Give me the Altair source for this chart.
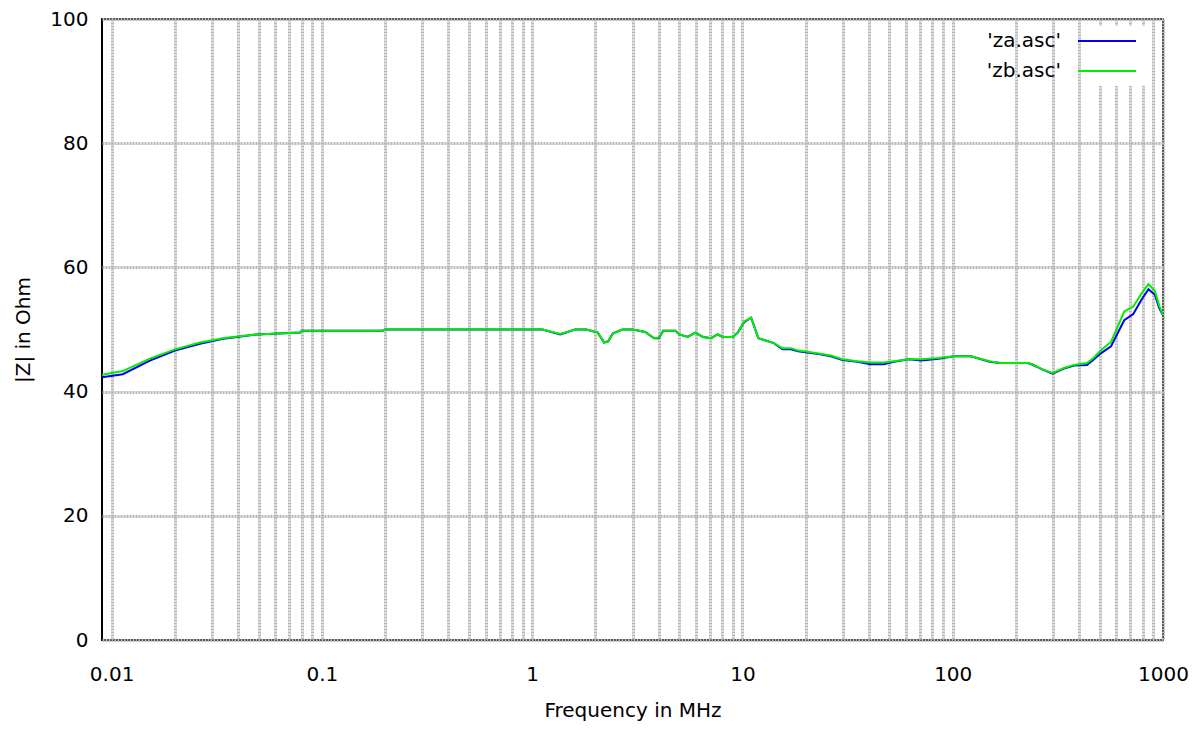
import altair as alt
import pandas as pd

# Frequency points (MHz)
freq_mhz = [0.009, 0.0113, 0.0152, 0.02, 0.0263, 0.0339, 0.0378, 0.049, 0.079, 0.08,
            0.195, 0.2, 1.12, 1.36, 1.6, 1.81, 2.05, 2.2, 2.3, 2.42,
            2.69, 3.0, 3.45, 3.8, 4.0, 4.2, 4.8, 5.0, 5.5, 5.95,
            6.5, 7.1, 7.6, 8.1, 9.0, 9.5, 10.2, 11.0, 11.9, 14.1,
            15.5, 17.0, 18.4, 20.4, 23.4, 26.3, 29.9, 35.2, 40.6, 47.0,
            52.5, 61.5, 71.0, 85.6, 101.6, 122.0, 150.0, 168.0, 228.0, 240.0,
            270.0, 298.0, 338.0, 377.0, 435.0, 470.0, 508.0, 566.0, 654.0, 722.0,
            790.0, 853.0, 915.0, 960.0, 1000.0]

za_ohm = [42.3, 42.8, 45.0, 46.6, 47.7, 48.5, 48.7, 49.2, 49.5, 49.8,
          49.8, 50.0, 50.0, 49.2, 50.0, 50.0, 49.5, 47.9, 48.1, 49.4,
          50.0, 50.0, 49.6, 48.6, 48.6, 49.8, 49.8, 49.2, 48.8, 49.5,
          48.8, 48.6, 49.2, 48.8, 48.8, 49.5, 51.2, 51.9, 48.6, 47.8,
          46.8, 46.8, 46.5, 46.3, 46.0, 45.7, 45.1, 44.8, 44.4, 44.4,
          44.8, 45.2, 45.0, 45.3, 45.7, 45.7, 44.8, 44.6, 44.6, 44.3,
          43.5, 42.9, 43.7, 44.2, 44.3, 45.2, 46.2, 47.3, 51.5, 52.5,
          54.8, 56.5, 55.6, 53.4, 52.3]

zb_ohm = [42.7, 43.3, 45.3, 46.8, 47.9, 48.6, 48.8, 49.2, 49.5, 49.8,
          49.8, 50.0, 50.0, 49.3, 50.0, 50.0, 49.5, 47.9, 48.1, 49.4,
          50.0, 50.0, 49.6, 48.6, 48.7, 49.8, 49.8, 49.2, 48.8, 49.5,
          48.8, 48.6, 49.2, 48.8, 48.8, 49.5, 51.3, 51.9, 48.6, 47.8,
          47.0, 47.0, 46.6, 46.4, 46.1, 45.8, 45.2, 44.9, 44.7, 44.7,
          44.9, 45.2, 45.2, 45.4, 45.7, 45.7, 44.9, 44.6, 44.6, 44.4,
          43.5, 43.0, 43.8, 44.3, 44.6, 45.5, 46.7, 48.0, 52.9, 53.7,
          55.8, 57.3, 56.2, 53.8, 52.3]

series_names = ["'za.asc'", "'zb.asc'"]
series_colors = ["#0000ee", "#00ee00"]

y_tick_values = [0, 20, 40, 60, 80, 100]
x_decades = [0.01, 0.1, 1, 10, 100]
x_grid_values = [m * d for d in x_decades for m in range(1, 10)] + [1000]

rows = []
for name, vals in zip(series_names, [za_ohm, zb_ohm]):
    for f, v in zip(freq_mhz, vals):
        rows.append({"freq": f, "Z": v, "series": name})
df = pd.DataFrame(rows)

FONT = "DejaVu Sans"

label_expr = ("abs(log(datum.value)/LN10 - round(log(datum.value)/LN10)) < 0.001 "
              "? format(datum.value, '~g') : ''")

chart = alt.Chart(df).mark_line(strokeWidth=2, clip=True).encode(
    x=alt.X("freq:Q",
            scale=alt.Scale(type="log", domain=[0.009, 1000], nice=False),
            axis=alt.Axis(values=x_grid_values, labelExpr=label_expr,
                          title="Frequency in MHz", labelOverlap=False,
                          labelFlush=False, titlePadding=16, labelPadding=24)),
    y=alt.Y("Z:Q",
            scale=alt.Scale(domain=[0, 100], nice=False),
            axis=alt.Axis(values=y_tick_values, title="|Z| in Ohm",
                          labelPadding=14, titlePadding=16)),
    color=alt.Color("series:N",
                    scale=alt.Scale(domain=series_names, range=series_colors),
                    legend=alt.Legend(title=None, orient="none",
                                      legendX=990, legendY=7,
                                      symbolType="M-20,0H20", symbolSize=8.4,
                                      symbolStrokeWidth=2, symbolOffset=0,
                                      rowPadding=10, labelAlign="right",
                                      labelOffset={"expr": "-56"}, labelFontSize=20,
                                      labelFont=FONT, labelColor="black",
                                      labelLimit=300, fillColor="white",
                                      padding=5)),
    order=alt.Order("freq:Q"),
).properties(
    width=1061, height=621,
    autosize=alt.AutoSizeParams(type="none"),
    padding={"left": 94, "top": 11, "right": 29, "bottom": 83},
).configure_view(
    stroke="black", strokeWidth=2
).configure_axis(
    labelFont=FONT, titleFont=FONT, labelFontSize=20, titleFontSize=20,
    labelColor="black", titleColor="black", titleFontWeight="normal",
    ticks=False, tickSize=0, domain=False,
    grid=True, gridColor="#b8b8b8", gridWidth=3, gridDash=[2, 1], gridOpacity=1,
)

chart.save("out.html", embed_options={"renderer": "svg", "actions": False})
